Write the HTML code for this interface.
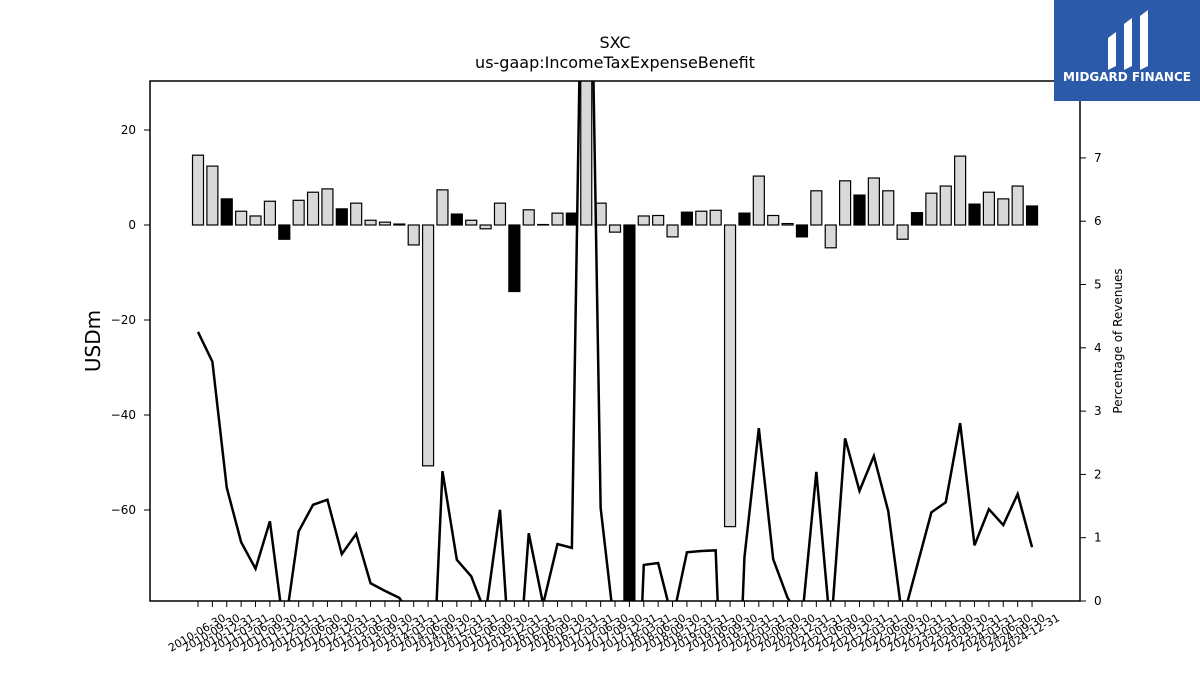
<!DOCTYPE html>
<html><head><meta charset="utf-8"><style>
body{margin:0;background:#fff;font-family:"Liberation Sans","DejaVu Sans",sans-serif;overflow:hidden;}
svg{display:block}
text{font-family:"DejaVu Sans","Liberation Sans",sans-serif;}
</style></head><body>
<svg id="chart" width="1200" height="675" viewBox="0 0 1200 675">
<defs><clipPath id="plotclip"><rect x="150" y="81" width="930" height="520"/></clipPath></defs>
<text x="615" y="48" text-anchor="middle" font-size="16">SXC</text>
<text x="615" y="68" text-anchor="middle" font-size="16">us-gaap:IncomeTaxExpenseBenefit</text>
<g id="bars" clip-path="url(#plotclip)"></g>
<g id="line" clip-path="url(#plotclip)"></g>
<rect x="150" y="81" width="930" height="520" fill="none" stroke="#000" stroke-width="1.5"/>
<g id="axes"></g>
<text transform="translate(100,341) rotate(-90)" text-anchor="middle" font-size="20">USDm</text>
<text transform="translate(1122,341) rotate(-90)" text-anchor="middle" font-size="12">Percentage of Revenues</text>
<g>
<rect x="1054" y="0" width="146" height="101" fill="#2a5aa8"/>
<path d="M1108 38 L1116 32 L1116 66 L1108 70 Z M1124 24 L1132 18 L1132 66 L1124 70 Z M1140 16 L1148 10 L1148 66 L1140 70 Z" fill="#fff"/>
<text x="1127" y="81" text-anchor="middle" font-size="12" font-weight="bold" fill="#fff" font-family="Liberation Sans">MIDGARD FINANCE</text>
</g>
</svg>
<script>
const categories=[];
(function(){const ends=["03-31","06-30","09-30","12-31"];let y=2010,q=1;for(let i=0;i<59;i++){categories.push(y+"-"+ends[q]);q++;if(q>3){q=0;y++;}}})();
const taxValues=[14.7,12.4,5.5,2.9,1.9,5.0,-3.0,5.2,6.9,7.6,3.4,4.6,1.0,0.6,0.2,-4.2,-50.7,7.4,2.3,1.0,-0.8,4.6,-14.0,3.2,0.1,2.5,2.5,40,4.6,-1.5,-90,1.9,2.0,-2.5,2.7,2.9,3.1,-63.5,2.5,10.3,2.0,0.3,-2.5,7.2,-4.8,9.3,6.3,9.9,7.2,-3.0,2.6,6.7,8.2,14.5,4.4,6.9,5.5,8.2,4.0];
const pctValues=[4.25,3.78,1.79,0.93,0.51,1.26,-0.5,1.1,1.52,1.6,0.74,1.06,0.28,0.16,0.05,-0.3,-3,2.05,0.65,0.39,-0.2,1.44,-2,1.07,-0.05,0.9,0.84,15,1.47,-0.5,-5,0.57,0.6,-0.3,0.77,0.79,0.8,-5,0.69,2.73,0.66,0.05,-0.3,2.04,-0.5,2.57,1.74,2.29,1.42,-0.3,0.55,1.4,1.56,2.81,0.88,1.45,1.2,1.69,0.85];
const leftTicks=[20,0,-20,-40,-60];
const rightTicks=[0,1,2,3,4,5,6,7];
const NS="http://www.w3.org/2000/svg";
const yL=v=>225-v*4.75;
const yR=v=>601-v*63.3;
const xB=i=>198+i*14.38;
function mk(t,a,p){const e=document.createElementNS(NS,t);for(const k in a)e.setAttribute(k,a[k]);p.appendChild(e);return e;}
const bars=document.getElementById('bars');
taxValues.forEach((v,i)=>{
 const y0=yL(0),y1=yL(v);
 const r=mk('rect',{x:xB(i)-5.5,y:Math.min(y0,y1),width:11,height:Math.abs(y1-y0),fill:(i%4===2)?'#000':'#d9d9d9',stroke:'#000','stroke-width':1.2},bars);
 
 
});
const line=document.getElementById('line');
const pth=mk('polyline',{points:pctValues.map((v,i)=>xB(i)+','+yR(v)).join(' '),fill:'none',stroke:'#000','stroke-width':2.5,'stroke-linejoin':'miter'},line);


const ax=document.getElementById('axes');
leftTicks.forEach(v=>{
 mk('line',{x1:144,x2:150,y1:yL(v),y2:yL(v),stroke:'#000'},ax);
 const t=mk('text',{x:136,y:yL(v)+4,'text-anchor':'end','font-size':12},ax);
 t.textContent=(v<0?'\u2212':'')+Math.abs(v);
 
 
});
rightTicks.forEach(v=>{
 mk('line',{x1:1080,x2:1086,y1:yR(v),y2:yR(v),stroke:'#000'},ax);
 const t=mk('text',{x:1094,y:yR(v)+4,'font-size':12},ax);
 t.textContent=v;
 
 
});
categories.forEach((c,i)=>{
 mk('line',{x1:xB(i),x2:xB(i),y1:601,y2:607,stroke:'#000'},ax);
 const t=mk('text',{transform:'translate('+(xB(i)-1)+',633) rotate(-30)','text-anchor':'middle','font-size':11,'dominant-baseline':'central'},ax);
 t.textContent=c;
 
 
});
</script>
</body></html>
